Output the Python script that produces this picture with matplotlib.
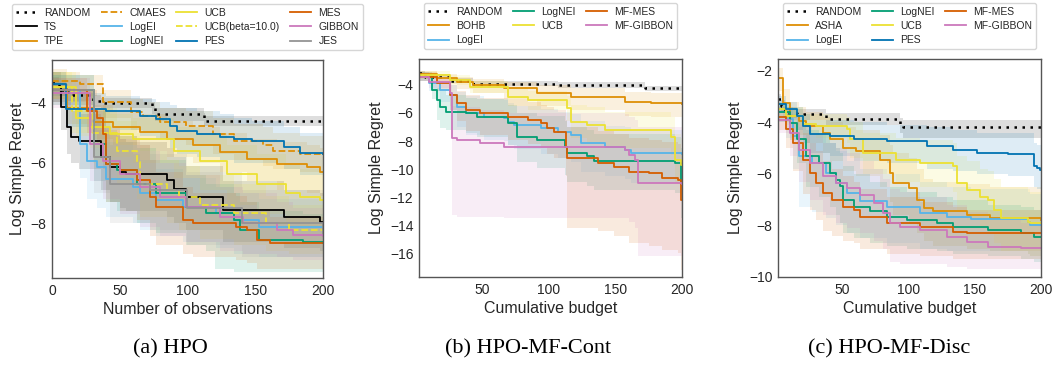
import matplotlib
matplotlib.use("Agg")
import matplotlib.pyplot as plt

# step curves: (x, mean, lower, upper)
hpo_random = [(0, -3.35, -3.55, -3.15), (5, -3.6, -3.8, -3.4), (12, -3.75, -3.95, -3.55),
              (30, -3.95, -4.15, -3.75), (36, -4.02, -4.2, -3.85), (74, -4.2, -4.4, -4.0),
              (76, -4.4, -4.6, -4.2), (112, -4.55, -4.75, -4.35), (113, -4.63, -4.78, -4.45),
              (200, -4.63, -4.78, -4.45)]
hpo_ts = [(0, -3.5, -4.0, -3.0), (7, -4.16, -4.9, -3.5), (11, -4.82, -5.7, -4.0), (14, -5.15, -6.0, -4.3),
          (20, -5.26, -6.2, -4.4), (36, -5.8, -6.9, -4.8), (43, -6.14, -7.3, -5.0), (50, -6.3, -7.5, -5.2),
          (55, -6.36, -7.6, -5.3), (85, -6.58, -7.8, -5.5), (90, -6.85, -8.0, -5.8), (99, -7.12, -8.2, -6.1),
          (126, -7.56, -8.6, -6.6), (171, -7.78, -8.8, -6.9), (198, -7.95, -8.9, -7.0), (200, -7.95, -8.9, -7.0)]
hpo_tpe = [(0, -3.5, -3.9, -2.9), (11, -4.2, -4.7, -3.6), (31, -4.66, -5.2, -4.1), (45, -4.82, -5.4, -4.3),
           (65, -4.99, -5.6, -4.4), (85, -5.2, -5.8, -4.6), (104, -5.42, -6.0, -4.8), (124, -5.64, -6.3, -5.0),
           (144, -5.86, -6.6, -5.2), (166, -6.03, -6.9, -5.3), (188, -6.14, -7.0, -5.4), (198, -6.3, -7.1, -5.5),
           (200, -6.3, -7.1, -5.5)]
hpo_cmaes = [(0, -3.3, -3.6, -3.0), (21, -3.4, -3.8, -3.1), (38, -4.0, -4.5, -3.6), (58, -4.33, -4.9, -3.9),
             (67, -4.44, -5.0, -4.0), (80, -4.66, -5.2, -4.2), (99, -4.77, -5.4, -4.3), (119, -5.04, -5.7, -4.5),
             (134, -5.26, -5.9, -4.7), (156, -5.42, -6.1, -4.8), (163, -5.59, -6.2, -5.0), (183, -5.72, -6.3, -5.1),
             (200, -5.75, -6.3, -5.2)]
hpo_logei = [(0, -3.6, -4.0, -3.1), (21, -5.37, -6.5, -4.3), (26, -5.92, -7.2, -4.7), (33, -6.14, -7.5, -4.9),
             (40, -6.52, -7.8, -5.3), (60, -6.8, -8.0, -5.7), (65, -7.0, -8.2, -5.9), (77, -7.23, -8.4, -6.2),
             (97, -7.45, -8.6, -6.5), (121, -7.67, -8.8, -6.8), (134, -7.9, -9.0, -7.0), (153, -8.1, -9.1, -7.2),
             (200, -8.2, -9.2, -7.3)]
hpo_lognei = [(0, -3.6, -4.1, -3.1), (31, -5.37, -6.6, -4.3), (40, -6.03, -7.3, -4.9), (48, -6.25, -7.6, -5.1),
              (63, -6.68, -8.0, -5.5), (77, -7.0, -8.3, -5.9), (99, -7.45, -8.7, -6.4), (114, -7.67, -8.9, -6.7),
              (120, -7.67, -9.5, -6.7), (134, -7.9, -9.6, -7.0), (139, -8.22, -9.6, -7.3), (153, -8.55, -9.6, -7.6),
              (185, -8.6, -9.6, -7.7), (200, -8.65, -9.6, -7.7)]
hpo_ucb = [(0, -3.5, -3.9, -3.0), (18, -4.5, -5.1, -3.9), (28, -4.82, -5.5, -4.2), (43, -5.04, -5.8, -4.4),
           (60, -5.2, -6.0, -4.5), (90, -5.59, -6.5, -4.8), (109, -5.92, -6.9, -5.0), (129, -6.36, -7.4, -5.4),
           (151, -6.68, -7.7, -5.7), (173, -7.0, -8.0, -6.0), (183, -7.12, -8.1, -6.2), (198, -7.23, -8.2, -6.3),
           (200, -7.23, -8.2, -6.3)]
hpo_ucb10 = [(0, -3.5, -3.9, -3.0), (15, -4.3, -5.0, -3.7), (30, -5.0, -6.0, -4.2), (48, -5.59, -6.7, -4.6),
             (63, -5.97, -7.2, -5.0), (65, -6.68, -7.8, -5.6), (85, -6.9, -8.0, -5.9), (94, -7.12, -8.2, -6.1),
             (109, -7.4, -8.5, -6.4), (134, -7.67, -8.7, -6.7), (158, -8.0, -8.9, -7.1), (175, -8.22, -9.0, -7.4),
             (200, -8.22, -9.0, -7.4)]
hpo_pes = [(0, -3.4, -3.8, -3.0), (10, -4.22, -4.8, -3.7), (40, -4.3, -4.9, -3.8), (65, -4.44, -5.1, -3.9),
           (77, -4.55, -5.2, -4.0), (87, -4.77, -5.5, -4.1), (92, -4.93, -5.7, -4.2), (107, -5.04, -5.8, -4.3),
           (124, -5.15, -5.9, -4.4), (134, -5.2, -6.0, -4.5), (148, -5.26, -6.0, -4.6), (171, -5.46, -6.2, -4.8),
           (183, -5.68, -6.4, -5.0), (200, -5.7, -6.4, -5.0)]
hpo_mes = [(0, -3.6, -4.0, -3.2), (26, -4.27, -5.0, -3.6), (33, -4.5, -5.4, -3.8), (38, -5.04, -6.2, -4.1),
           (40, -6.03, -7.3, -4.9), (50, -6.25, -7.6, -5.1), (63, -6.58, -7.9, -5.4), (72, -7.12, -8.4, -5.9),
           (77, -7.45, -8.7, -6.3), (97, -7.9, -9.0, -6.8), (104, -8.0, -9.1, -7.0), (136, -8.1, -9.2, -7.1),
           (144, -8.22, -9.3, -7.3), (151, -8.55, -9.5, -7.6), (161, -8.64, -9.5, -7.8), (200, -8.65, -9.5, -7.8)]
hpo_gibbon = [(0, -3.7, -4.2, -3.2), (28, -5.37, -6.6, -4.3), (38, -5.92, -7.2, -4.8), (50, -6.36, -7.7, -5.2),
              (65, -6.8, -8.1, -5.6), (80, -7.12, -8.4, -6.0), (99, -7.45, -8.6, -6.4), (124, -7.78, -8.9, -6.8),
              (141, -8.0, -9.0, -7.0), (166, -8.22, -9.1, -7.3), (178, -8.38, -9.2, -7.5), (200, -8.4, -9.2, -7.5)]
hpo_jes = [(0, -3.6, -4.1, -3.1), (31, -5.8, -7.0, -4.6), (43, -6.68, -8.0, -5.4), (72, -6.9, -8.2, -5.7),
           (100, -7.5, -8.7, -6.3), (140, -8.0, -9.1, -6.9), (200, -8.3, -9.3, -7.2)]

mfc_random = [(2.5, -3.17, -3.3, -3.0), (7, -3.4, -3.55, -3.25), (26, -3.69, -3.85, -3.5), (43, -3.93, -4.1, -3.75),
              (107, -4.0, -4.2, -3.8), (172, -4.24, -4.45, -4.05), (200, -4.25, -4.45, -4.05)]
mfc_bohb = [(2.5, -3.2, -3.5, -3.0), (16, -3.52, -3.9, -3.2), (31, -3.76, -4.3, -3.4), (43, -4.0, -4.6, -3.6),
            (66, -4.24, -5.0, -3.8), (91, -4.6, -5.5, -4.0), (117, -4.83, -5.8, -4.2), (157, -5.19, -6.2, -4.5),
            (177, -5.3, -6.3, -4.6), (200, -5.35, -6.4, -4.6)]
mfc_logei = [(2.5, -3.4, -3.7, -3.1), (10, -3.88, -4.4, -3.5), (18, -4.36, -5.2, -3.8), (26, -4.71, -5.8, -4.0),
             (31, -5.55, -7.0, -4.5), (38, -6.02, -7.6, -4.8), (51, -6.26, -7.9, -5.0), (66, -6.38, -8.0, -5.1),
             (69, -6.61, -8.3, -5.3), (74, -6.85, -8.6, -5.5), (94, -7.09, -8.9, -5.7), (107, -7.33, -9.2, -5.9),
             (117, -7.56, -9.5, -6.1), (124, -8.16, -10.2, -6.6), (142, -8.44, -10.5, -6.9), (157, -8.63, -10.7, -7.0),
             (162, -8.87, -11.0, -7.2), (200, -8.9, -11.0, -7.2)]
mfc_lognei = [(2.5, -3.4, -3.7, -3.1), (12, -4.36, -5.0, -3.8), (16, -5.07, -6.5, -4.2), (18, -5.55, -7.1, -4.4),
              (23, -5.9, -7.2, -4.7), (38, -6.02, -7.4, -4.9), (46, -6.26, -7.7, -5.0), (69, -6.73, -8.3, -5.4),
              (76, -7.68, -9.5, -6.0), (91, -7.92, -9.9, -6.2), (112, -8.4, -10.4, -6.6), (114, -8.87, -10.9, -7.0),
              (129, -9.1, -11.2, -7.2), (134, -9.4, -11.5, -7.5), (195, -9.58, -11.7, -7.7), (199, -11.0, -13.5, -8.5),
              (200, -11.0, -13.5, -8.5)]
mfc_ucb = [(2.5, -3.3, -3.6, -3.0), (26, -3.64, -4.0, -3.3), (41, -4.12, -4.6, -3.7), (69, -4.83, -5.5, -4.2),
           (84, -5.07, -5.8, -4.4), (114, -5.66, -6.6, -4.8), (117, -6.61, -7.8, -5.4), (129, -6.85, -8.1, -5.6),
           (142, -7.2, -8.5, -5.9), (192, -7.68, -9.0, -6.3), (195, -9.35, -11.0, -7.5), (199, -9.7, -11.5, -7.8),
           (200, -9.7, -11.5, -7.8)]
mfc_mes = [(2.5, -3.4, -3.7, -3.1), (16, -3.88, -4.4, -3.5), (26, -4.71, -5.8, -4.0), (31, -5.3, -6.6, -4.4),
           (38, -5.78, -7.3, -4.7), (48, -6.02, -7.6, -4.9), (69, -6.26, -7.9, -5.0), (84, -6.5, -8.2, -5.2),
           (94, -6.73, -8.5, -5.4), (99, -7.09, -8.9, -5.6), (104, -7.33, -9.2, -5.8), (113, -8.4, -10.5, -6.5),
           (114, -9.23, -14.2, -7.0), (137, -9.58, -14.4, -7.3), (149, -9.82, -14.8, -7.5), (160, -10.18, -15.3, -7.8),
           (175, -10.3, -15.5, -7.9), (185, -10.65, -15.8, -8.1), (197, -10.77, -16.0, -8.2), (199, -12.2, -17.2, -9.0),
           (200, -12.2, -17.2, -9.0)]
mfc_gibbon = [(2.5, -3.4, -3.7, -3.1), (10, -3.76, -4.2, -3.4), (26, -4.6, -5.5, -3.9), (27, -7.8, -13.3, -5.5),
              (31, -7.92, -13.4, -5.6), (48, -8.16, -13.4, -5.8), (66, -8.44, -13.5, -6.0), (157, -8.63, -13.5, -6.1),
              (160, -8.99, -13.8, -6.3), (165, -9.35, -14.2, -6.5), (167, -11.0, -16.2, -7.0), (200, -11.05, -16.3, -7.0)]

mfd_random = [(2, -3.1, -3.3, -2.9), (4, -3.37, -3.6, -3.15), (7, -3.63, -3.85, -3.4), (16, -3.69, -3.9, -3.5),
              (38, -3.89, -4.1, -3.65), (94, -4.08, -4.4, -3.85), (96, -4.18, -4.6, -3.9), (200, -4.21, -4.65, -3.9)]
mfd_asha = [(2, -2.3, -2.8, -1.9), (5.5, -3.24, -3.8, -2.7), (11, -3.76, -4.3, -3.2), (18, -3.95, -4.5, -3.4),
            (23, -4.15, -4.8, -3.6), (36, -4.4, -5.2, -3.8), (41, -4.67, -5.5, -4.0), (51, -4.99, -5.9, -4.2),
            (61, -5.12, -6.1, -4.3), (79, -5.45, -6.5, -4.5), (86, -5.97, -7.1, -4.9), (89, -6.36, -7.6, -5.2),
            (101, -6.55, -7.9, -5.4), (107, -7.0, -8.3, -5.8), (112, -7.33, -8.6, -6.2), (119, -7.46, -8.8, -6.3),
            (144, -7.59, -8.9, -6.4), (162, -7.72, -9.0, -6.5), (200, -7.78, -9.0, -6.5)]
mfd_logei = [(2, -3.6, -4.0, -3.3), (8, -3.89, -4.6, -3.4), (13, -4.54, -5.8, -3.7), (18, -5.32, -7.3, -4.2),
             (28, -5.58, -7.5, -4.4), (38, -5.97, -7.7, -4.8), (46, -6.36, -8.0, -5.1), (54, -6.75, -8.3, -5.5),
             (64, -7.07, -8.5, -5.8), (84, -7.27, -8.7, -6.0), (109, -7.53, -8.9, -6.3), (129, -7.66, -9.0, -6.5),
             (147, -7.76, -9.0, -6.6), (190, -7.85, -9.1, -6.7), (192, -7.98, -9.2, -6.8), (200, -7.98, -9.2, -6.8)]
mfd_lognei = [(2, -3.6, -4.0, -3.3), (11, -4.02, -4.7, -3.5), (16, -4.67, -5.6, -3.9), (23, -5.32, -6.5, -4.3),
              (33, -5.58, -6.9, -4.5), (41, -5.97, -7.3, -4.8), (46, -6.23, -7.6, -5.0), (49, -6.49, -7.9, -5.2),
              (51, -7.0, -8.3, -5.7), (59, -7.27, -8.5, -6.0), (71, -7.46, -8.7, -6.3), (84, -7.66, -8.8, -6.5),
              (99, -7.79, -8.9, -6.7), (122, -7.92, -9.0, -6.9), (134, -8.05, -9.1, -7.0), (160, -8.18, -9.2, -7.2),
              (185, -8.31, -9.3, -7.3), (195, -8.44, -9.4, -7.4), (200, -8.44, -9.4, -7.4)]
mfd_ucb = [(2, -3.5, -3.8, -3.2), (8, -3.76, -4.1, -3.4), (21, -4.08, -4.5, -3.7), (31, -4.15, -4.6, -3.7),
           (54, -4.28, -4.8, -3.8), (56, -4.67, -5.4, -4.0), (66, -5.19, -6.0, -4.4), (91, -5.45, -6.3, -4.6),
           (109, -5.58, -6.5, -4.7), (134, -5.71, -6.7, -4.8), (137, -6.36, -7.5, -5.3), (144, -6.62, -7.8, -5.5),
           (154, -6.88, -8.1, -5.8), (160, -7.01, -8.3, -5.9), (165, -7.4, -8.7, -6.2), (170, -7.72, -9.0, -6.5),
           (190, -7.85, -9.1, -6.6), (192, -7.92, -9.2, -6.7), (200, -7.92, -9.2, -6.7)]
mfd_pes = [(2, -3.3, -3.6, -3.0), (8, -3.5, -3.9, -3.2), (16, -3.76, -4.3, -3.4), (21, -4.15, -4.8, -3.7),
           (26, -4.47, -5.2, -3.9), (41, -4.54, -5.3, -3.9), (59, -4.67, -5.5, -4.0), (84, -4.73, -5.6, -4.1),
           (114, -4.93, -5.8, -4.2), (134, -5.06, -5.9, -4.3), (152, -5.19, -6.0, -4.4), (175, -5.25, -6.1, -4.4),
           (195, -5.71, -6.5, -4.8), (197, -5.77, -6.6, -4.9), (199, -5.84, -6.6, -4.9), (200, -5.84, -6.6, -4.9)]
mfd_mes = [(2, -3.8, -4.3, -3.4), (8, -4.28, -5.0, -3.7), (13, -4.8, -5.9, -4.0), (21, -5.45, -6.8, -4.4),
           (26, -5.97, -7.4, -4.8), (31, -6.36, -7.8, -5.1), (36, -6.75, -8.2, -5.5), (43, -7.0, -8.4, -5.8),
           (51, -7.27, -8.6, -6.1), (59, -7.4, -8.7, -6.3), (64, -7.66, -8.9, -6.6), (84, -7.92, -9.1, -6.9),
           (109, -8.05, -9.2, -7.1), (134, -8.24, -9.3, -7.3), (144, -8.31, -9.3, -7.4), (200, -8.31, -9.3, -7.4)]
mfd_gibbon = [(2, -3.9, -4.4, -3.5), (11, -4.41, -5.3, -3.8), (18, -5.06, -6.3, -4.1), (26, -5.58, -7.0, -4.4),
              (36, -6.1, -7.6, -4.8), (46, -6.36, -7.9, -5.0), (54, -6.55, -8.1, -5.2), (64, -6.81, -8.3, -5.5),
              (74, -7.14, -8.6, -5.8), (81, -7.53, -8.9, -6.2), (86, -7.92, -9.4, -6.6), (94, -8.05, -9.5, -6.7),
              (109, -8.18, -9.5, -6.9), (129, -8.44, -9.6, -7.2), (144, -8.63, -9.7, -7.5), (160, -8.83, -9.7, -7.8),
              (185, -8.89, -9.7, -7.9), (200, -8.89, -9.7, -7.9)]

BLUE, ORANGE, GREEN, RED = '#0173B2', '#DE8F05', '#029E73', '#D55E00'
PINK, GREY, YELLOW, LBLUE = '#CC78BC', '#949494', '#ECE133', '#56B4E9'

# (label, data, color, linestyle)
panel_a = [('RANDOM', hpo_random, 'black', ':'), ('TS', hpo_ts, 'black', '-'),
           ('TPE', hpo_tpe, ORANGE, '-'), ('CMAES', hpo_cmaes, ORANGE, '--'),
           ('LogEI', hpo_logei, LBLUE, '-'), ('LogNEI', hpo_lognei, GREEN, '-'),
           ('UCB', hpo_ucb, YELLOW, '-'), ('UCB(beta=10.0)', hpo_ucb10, YELLOW, '--'),
           ('PES', hpo_pes, BLUE, '-'), ('MES', hpo_mes, RED, '-'),
           ('GIBBON', hpo_gibbon, PINK, '-'), ('JES', hpo_jes, GREY, '-')]
panel_b = [('RANDOM', mfc_random, 'black', ':'), ('BOHB', mfc_bohb, ORANGE, '-'),
           ('LogEI', mfc_logei, LBLUE, '-'), ('LogNEI', mfc_lognei, GREEN, '-'),
           ('UCB', mfc_ucb, YELLOW, '-'), ('MF-MES', mfc_mes, RED, '-'),
           ('MF-GIBBON', mfc_gibbon, PINK, '-')]
panel_c = [('RANDOM', mfd_random, 'black', ':'), ('ASHA', mfd_asha, ORANGE, '-'),
           ('LogEI', mfd_logei, LBLUE, '-'), ('LogNEI', mfd_lognei, GREEN, '-'),
           ('UCB', mfd_ucb, YELLOW, '-'), ('PES', mfd_pes, BLUE, '-'),
           ('MF-MES', mfd_mes, RED, '-'), ('MF-GIBBON', mfd_gibbon, PINK, '-')]

plt.rcParams['font.family'] = ['Liberation Sans', 'DejaVu Sans']
plt.rcParams['text.color'] = '#262626'
plt.rcParams['axes.labelcolor'] = '#262626'
plt.rcParams['xtick.color'] = '#262626'
plt.rcParams['ytick.color'] = '#262626'

fig = plt.figure(figsize=(10.56, 3.68), dpi=100)
ax_a = fig.add_axes([0.0492, 0.2446, 0.2566, 0.5924])
ax_b = fig.add_axes([0.3968, 0.2473, 0.2490, 0.5924])
ax_c = fig.add_axes([0.7367, 0.2473, 0.2490, 0.5924])


def draw(ax, series):
    for label, pts, color, ls in series:
        x = [p[0] for p in pts]
        y = [p[1] for p in pts]
        lo = [p[2] for p in pts]
        hi = [p[3] for p in pts]
        ax.fill_between(x, lo, hi, step='post', color=color, alpha=0.13, lw=0)
        if ls == ':':
            ax.plot(x, y, drawstyle='steps-post', color=color, lw=1.8, label=label,
                    dashes=(1, 2.2))
        else:
            ax.plot(x, y, drawstyle='steps-post', color=color, ls=ls, lw=1.3, label=label)


for ax, series, xlabel, ncol in [(ax_a, panel_a, 'Number of observations', 4),
                                 (ax_b, panel_b, 'Cumulative budget', 3),
                                 (ax_c, panel_c, 'Cumulative budget', 3)]:
    draw(ax, series)
    ax.set_xlabel(xlabel, fontsize=11.5, labelpad=3)
    ax.set_ylabel('Log Simple Regret', fontsize=11.5)
    ax.tick_params(length=0, labelsize=10, pad=4)
    for s in ax.spines.values():
        s.set_color('#555555')
        s.set_linewidth(1.0)
    ax.legend(loc='lower center', bbox_to_anchor=(0.5, 1.03), ncol=ncol, fontsize=7.5,
              labelspacing=0.4, columnspacing=1.0, handletextpad=0.7, borderpad=0.4,
              borderaxespad=0.3, frameon=True, edgecolor='#cccccc')

ax_a.set_xlim(0, 200)
ax_a.set_ylim(-9.8, -2.6)
ax_a.set_xticks([0, 50, 100, 150, 200])
ax_a.set_yticks([-4, -6, -8])

ax_b.set_xlim(2.5, 200)
ax_b.set_ylim(-17.7, -2.15)
ax_b.set_xticks([50, 100, 150, 200])
ax_b.set_yticks([-4, -6, -8, -10, -12, -14, -16])

ax_c.set_xlim(2, 200)
ax_c.set_ylim(-10, -1.55)
ax_c.set_xticks([50, 100, 150, 200])
ax_c.set_yticks([-2, -4, -6, -8, -10])

for xc, cap in [(0.161, '(a) HPO'), (0.5, '(b) HPO-MF-Cont'), (0.842, '(c) HPO-MF-Disc')]:
    fig.text(xc, 0.052, cap, ha='center', va='center', fontsize=16, family='Liberation Serif', color='black')

fig.savefig('out.png', dpi=100)
